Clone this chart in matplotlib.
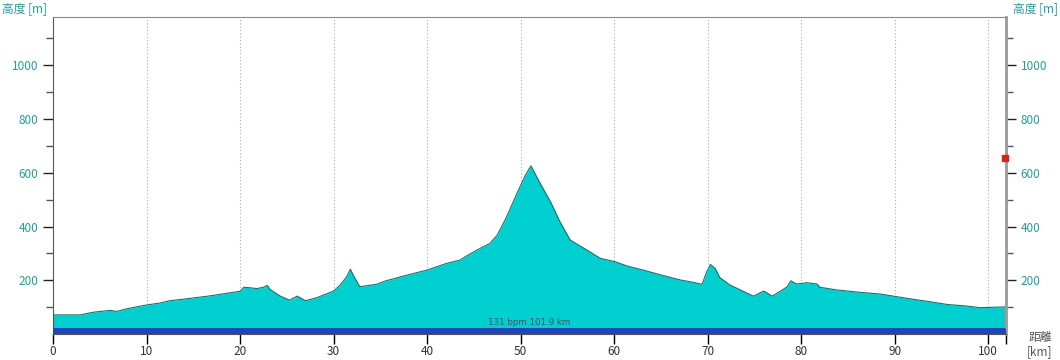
import numpy as np
import matplotlib.pyplot as plt

plt.rcParams['font.family'] = ['Noto Sans CJK JP', 'DejaVu Sans']

# distance [km] / altitude [m]
dist = [0.0, 2.9, 4.3, 6.1, 6.8, 7.9, 10.0, 11.4, 12.5, 14.3, 16.8, 20.0, 20.4,
        21.1, 21.8, 22.5, 22.9, 23.2, 24.3, 25.3, 26.1, 27.0, 28.2, 30.0, 30.7,
        31.4, 31.8, 32.1, 32.8, 34.6, 35.5, 37.5, 40.0, 42.1, 43.5, 44.2, 45.3,
        46.7, 47.5, 48.5, 49.6, 50.5, 51.1, 52.1, 53.2, 54.2, 55.3, 56.4, 57.4,
        58.5, 60.1, 61.4, 63.1, 65.3, 67.1, 68.5, 69.4, 69.9, 70.3, 70.8, 71.3,
        72.4, 73.5, 74.9, 76.0, 76.9, 77.8, 78.5, 78.9, 79.5, 80.6, 81.7, 82.0,
        83.8, 86.3, 88.4, 90.2, 92.0, 93.8, 95.6, 97.7, 99.1, 101.9]
elev = [71, 71, 81, 88, 84, 94, 108, 115, 124, 131, 142, 159, 174,
        172, 169, 174, 181, 166, 141, 126, 141, 124, 135, 160, 182,
        213, 241, 219, 176, 185, 197, 216, 238, 263, 275, 290, 312,
        337, 368, 436, 523, 590, 626, 560, 492, 418, 350, 327, 306,
        282, 269, 253, 238, 217, 201, 192, 185, 232, 259, 244, 210,
        182, 164, 141, 160, 141, 160, 176, 198, 186, 191, 186, 174,
        164, 155, 149, 139, 129, 120, 110, 104, 98, 101]

total_km = 101.9
band_top = 24
info = "131 bpm 101.9 km"

teal = '#2a9a9a'

fig = plt.figure(figsize=(10.6, 3.6), dpi=100)
ax = fig.add_axes([53/1060, 1 - 334/360, 953/1060, 317/360])

for x in range(10, 101, 10):
    ax.axvline(x, color='#aaaaaa', lw=0.8, ls=(0, (1, 2)), zorder=0)

ax.fill_between(dist, 0, elev, color='#00cfcf', lw=0, zorder=1)
ax.plot(dist, elev, color='#1c6e6e', lw=0.8, zorder=2)
ax.axhspan(0, band_top, color='#2244bb', lw=0, zorder=3)
ax.text(50.9, band_top + 3, info, ha='center', va='bottom', fontsize=6.3,
        color='#4a5560', zorder=4, family=['DejaVu Sans'])

# small markers at the end of the track
ax.plot([total_km, total_km], [band_top, elev[-1]], color='#e08080', lw=1.2, zorder=4)
ax.plot([total_km - 0.15], [655], marker='s', ms=4, color='#e02020', zorder=5,
        clip_on=False)

ax.set_xlim(0, total_km)
ax.set_ylim(0, 1180)

ax.set_xticks(range(0, 101, 10))
ax.set_xticks([total_km], minor=True)
ax.set_yticks(range(200, 1001, 200))
ax.set_yticks(range(100, 1200, 200), minor=True)
ax.tick_params(axis='x', which='both', direction='out', length=7, width=1,
               color='black', labelsize=8.5, labelcolor='#333333', pad=1)
ax.tick_params(axis='y', which='major', direction='out', length=7, width=1,
               color='#222222', labelsize=8.5, labelcolor=teal,
               left=True, right=True, labelleft=True, labelright=True)
ax.tick_params(axis='y', which='minor', direction='out', length=5, width=1,
               color='#555555', left=True, right=True)

for s in ['left', 'bottom']:
    ax.spines[s].set_color('#555555')
ax.spines['top'].set_color('#888888')
ax.spines['right'].set_color('#999999')
ax.spines['right'].set_linewidth(2)

fig.text(2/1060, 1 - 9/360, "高度 [m]", color=teal, fontsize=8.5, va='center', ha='left')
fig.text(1058/1060, 1 - 9/360, "高度 [m]", color=teal, fontsize=8.5, va='center', ha='right')
fig.text(1040/1060, 1 - 338/360, "距離", color='#555555', fontsize=8.5, va='center', ha='center')
fig.text(1040/1060, 1 - 352/360, "[km]", color='#555555', fontsize=8.5, va='center', ha='center')

plt.savefig("out.png", dpi=100)
